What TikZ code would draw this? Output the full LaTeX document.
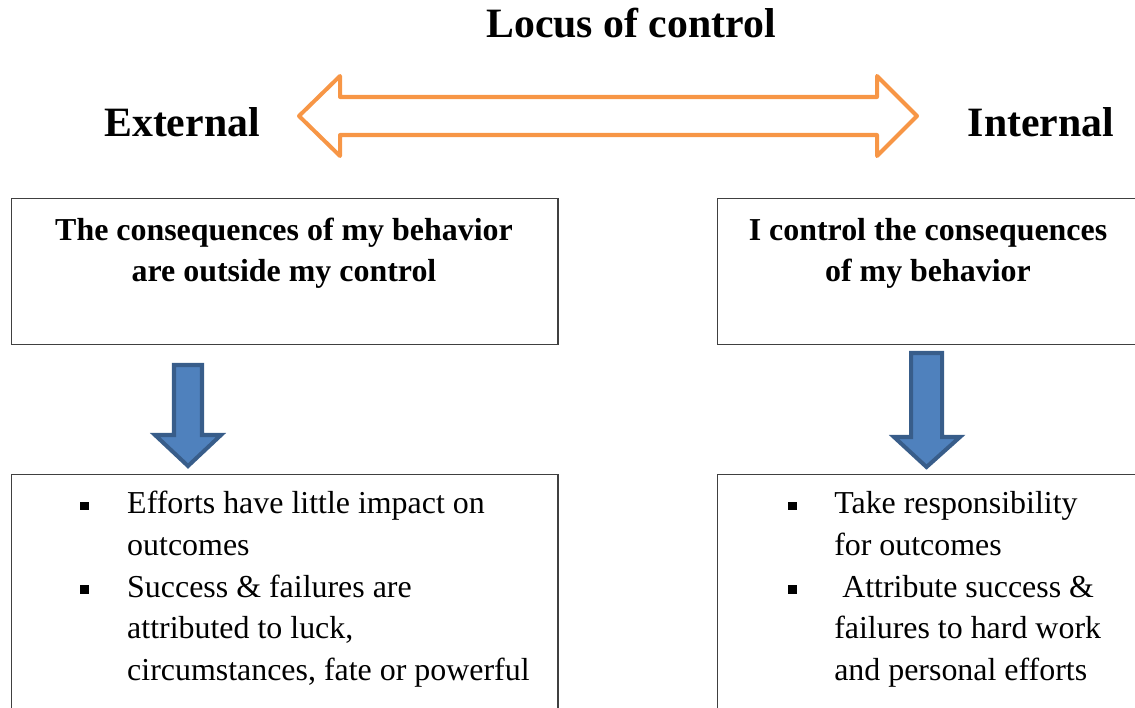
\documentclass[tikz,border=0pt]{standalone}
\usepackage{fontspec}
\setmainfont{Liberation Serif}
\usepackage{array}
\usepackage{tikz}
\usetikzlibrary{positioning}
\definecolor{locusorange}{HTML}{F79646}
\definecolor{arrowblue}{HTML}{4F81BD}
\definecolor{arrowedge}{HTML}{385D8A}
\newcommand{\sqbul}{\rule[0.11em]{0.26em}{0.26em}}
\tikzset{
  heading/.style={font=\bfseries\fontsize{29.7}{36}\selectfont, inner sep=0pt},
  boxtext/.style={font=\bfseries\fontsize{22.7}{29.2}\selectfont, align=center, inner sep=0pt},
  listtext/.style={font=\fontsize{22.7}{29.7}\selectfont, inner sep=0pt, anchor=north west},
  framebox/.style={draw=black!75, line width=1pt, anchor=north west, inner sep=0pt, minimum width=13.65cm},
  downarrow/.style={fill=arrowblue, draw=arrowedge, line width=2.85pt, line join=miter},
}

\begin{document}
\begin{tikzpicture}[x=0.025cm,y=-0.025cm]
        \clip (0,0) rectangle (1135,708);
        \node[heading] (title) at (631,23) {Locus of control};
        \node[heading] (external) at (182,122) {External};
        \node[heading] (internal) at (1041,122) {Internal};
        \draw[locusorange, line width=2.85pt, line join=round] (299,116) -- (340,76) -- (340,97) -- (877,97) -- (877,76) -- (917,116) -- (877,156) -- (877,135) -- (340,135) -- (340,156) -- cycle;
        \node[framebox, minimum height=3.65cm] (extbox) at (11,198) {};
        \node[framebox, minimum height=3.65cm] (intbox) at (717,198) {};
        \node[boxtext] (exttext) at (284,253) {The consequences of my behavior\\are outside my control};
        \node[boxtext] (inttext) at (928,253) {I control the consequences\\of my behavior};
        \draw[downarrow] (174,365) -- (202,365) -- (202,435) -- (221,435) -- (188,466) -- (155,435) -- (174,435) -- cycle;
        \draw[downarrow] (911,353) -- (942,353) -- (942,437) -- (960,437) -- (926.5,467) -- (894,437) -- (911,437) -- cycle;
        \node[framebox, minimum height=7cm] (extlistbox) at (11,474) {};
        \node[framebox, minimum height=7cm] (intlistbox) at (717,474) {};
        \node[listtext] (extlist) at (80,484) {\begin{tabular}{@{}p{33.4pt}@{}l@{}}
          \sqbul & Efforts have little impact on\\
                 & outcomes\\
          \sqbul & Success \& failures are\\
                 & attributed to luck,\\
                 & circumstances, fate or powerful\\
        \end{tabular}};
        \node[listtext] (intlist) at (788,484) {\begin{tabular}{@{}p{32.7pt}@{}l@{}}
          \sqbul & Take responsibility\\
                 & for outcomes\\
          \sqbul & \ Attribute success \&\\
                 & failures to hard work\\
                 & and personal efforts\\
        \end{tabular}};
      \end{tikzpicture}
\end{document}
